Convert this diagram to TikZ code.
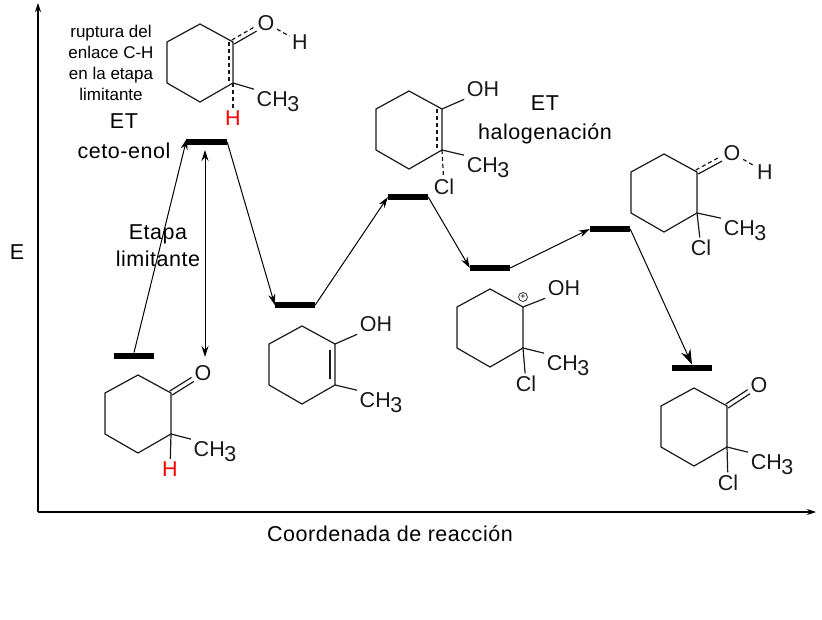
\documentclass[tikz,border=0pt]{standalone}
\usepackage{fontspec}
\setmainfont{Liberation Sans}
\newfontfamily\widefont[LetterSpace=2.5]{Liberation Sans}
\usetikzlibrary{arrows.meta,calc}
\tikzset{
  energybar/.style={fill=black,draw=none,minimum width=40pt,minimum height=6.5pt,inner sep=0pt},
  stepline/.style={line width=1pt,-{Stealth[length=11pt,width=7pt]}},
  axisline/.style={line width=1.2pt,-{Stealth[length=9pt,width=6pt]}},
  bond/.style={line width=1.2pt,draw=black!90},
  dashbond/.style={bond,dash pattern=on 4pt off 3pt},
  atom/.style={font=\fontsize{21.5}{22}\selectfont,inner sep=2.5pt,text=black!90},
  redatom/.style={atom,text=red},
  lab/.style={font=\fontsize{21.5}{26}\selectfont\widefont,inner sep=0pt,align=center},
  smalllab/.style={font=\fontsize{17}{21}\selectfont,inner sep=0pt,align=center},
  ring/.pic={
    \coordinate (-c1) at (0,0);
    \coordinate (-c2) at (0,41);
    \draw[bond,line join=round] (-c1) -- (-c2) -- (-33,60) -- (-66,41) -- (-66,0) -- (-33,-18) -- cycle;
  }
}
\newcommand{\methyl}{CH\kern-0.5pt\raisebox{-5pt}{3}}
% carbonyl: two parallel strokes from the ring carbon towards the oxygen; #3 is the style of the upper stroke
\newcommand{\carbonyl}[3]{%
  \draw[bond] ($(#1)+(1.2,2)$) -- ($(#1)!0.68!(#2)+(1.2,2)$);
  \draw[#3] ($(#1)+(-1.2,-2)$) -- ($(#1)!0.68!(#2)+(-1.2,-2)$);
}
\begin{document}
\begin{tikzpicture}[x=1pt,y=-1pt]
\useasboundingbox (0,0) rectangle (822,620);
% axes
\coordinate (origin) at (38,512);
\coordinate (ytop) at (38,3);
\coordinate (xend) at (816,512);
\draw[axisline] (origin) -- (ytop);
\draw[axisline] (origin) -- (xend);
\node[lab] (elab) at (17,252) {E};
\node[lab] (xlab) at (390,534) {Coordenada de reacción};
% energy levels
\node[energybar] (la) at (134,356) {};
\node[energybar] (lb) at (207,142) {};
\node[energybar] (lc) at (295,305) {};
\node[energybar] (ld) at (408,197) {};
\node[energybar] (le) at (490,268) {};
\node[energybar] (lf) at (610,229) {};
\node[energybar] (lg) at (692,368) {};
\coordinate (ltop) at (205,150);
\coordinate (lbot) at (205,357);
\draw[stepline] (la.north) -- (lb.north west);
\draw[stepline] (lb.east) -- (lc.west);
\draw[stepline] (lc.east) -- (ld.west);
\draw[stepline] (ld.east) -- (le.west);
\draw[stepline] (le.east) -- (lf.west);
\draw[line width=1pt,-{Stealth[length=15pt,width=10pt]}] (lf.east) -- (lg.north);
\draw[line width=1pt,{Stealth[length=11pt,width=7pt]}-{Stealth[length=11pt,width=7pt]}] (ltop) -- (lbot);
% labels
\node[smalllab] (nrup) at (111,63) {ruptura del\\enlace C-H\\en la etapa\\limitante};
\node[lab] (net1) at (124,136) {ET\\[4pt]ceto-enol};
\node[lab] (netapa) at (158,246) {Etapa\\[1pt]limitante};
\node[lab] (net2) at (545,120) {ET\\[3pt]halogenación};
% TS keto-enol
\pic (m1) at (233,42) {ring};
\node[atom] (m1o) at (266,23) {O};
\node[atom] (m1h) at (300,42) {H};
\node[atom] (m1me) at (278,102) {\methyl};
\node[redatom] (m1hr) at (233,118) {H};
\carbonyl{m1-c1}{m1o}{dashbond}
\draw[dashbond] (m1o) -- (m1h);
\draw[dashbond] ([xshift=-4pt]m1-c1) -- ([xshift=-4pt]m1-c2);
\draw[bond] (m1-c2) -- (m1me.north west);
\draw[dashbond] (m1-c2) -- (m1hr);
% TS halogenation
\pic (m2) at (442,109) {ring};
\node[atom] (m2oh) at (483,89) {OH};
\node[atom] (m2me) at (488,168) {\methyl};
\node[atom] (m2cl) at (444,187) {Cl};
\draw[bond] (m2-c1) -- (m2oh.south west);
\draw[dashbond] ([xshift=-5pt]m2-c1) -- ([xshift=-5pt]m2-c2);
\draw[bond] (m2-c2) -- (m2me.north west);
\draw[dashbond] (m2-c2) -- (m2cl);
% TS 2
\pic (m3) at (697,172) {ring};
\node[atom] (m3o) at (732,153) {O};
\node[atom] (m3h) at (765,172) {H};
\node[atom] (m3me) at (745,231) {\methyl};
\node[atom] (m3cl) at (701,248) {Cl};
\carbonyl{m3-c1}{m3o}{dashbond}
\draw[dashbond] (m3o) -- (m3h);
\draw[bond] (m3-c2) -- (m3me.north west);
\draw[bond] (m3-c2) -- (m3cl);
% ketone
\pic (m4) at (171,393) {ring};
\node[atom] (m4o) at (203,373) {O};
\node[atom] (m4me) at (215,452) {\methyl};
\node[redatom] (m4h) at (170,469) {H};
\carbonyl{m4-c1}{m4o}{bond}
\draw[bond] (m4-c2) -- (m4me.north west);
\draw[bond] (m4-c2) -- (m4h);
% enol
\pic (m5) at (335,344) {ring};
\node[atom] (m5oh) at (376,324) {OH};
\node[atom] (m5me) at (381,403) {\methyl};
\draw[bond] (m5-c1) -- (m5oh.south west);
\draw[bond] ([shift={(-5,6)}]m5-c1) -- ([shift={(-5,-6)}]m5-c2);
\draw[bond] (m5-c2) -- (m5me.north west);
% cation
\pic (m6) at (523,307) {ring};
\node[atom] (m6oh) at (564,288) {OH};
\node[atom] (m6me) at (568,366) {\methyl};
\node[atom] (m6cl) at (526,384) {Cl};
\node[draw=black!80,circle,line width=0.8pt,minimum size=9pt,inner sep=0pt,font=\fontsize{9}{9}\selectfont] (m6p) at (523,297) {+};
\draw[bond] (m6-c1) -- (m6oh.south west);
\draw[bond] (m6-c2) -- (m6me.north west);
\draw[bond] (m6-c2) -- (m6cl);
% chloroketone
\pic (m7) at (727,406) {ring};
\node[atom] (m7o) at (759,385) {O};
\node[atom] (m7me) at (772,465) {\methyl};
\node[atom] (m7cl) at (728,483) {Cl};
\carbonyl{m7-c1}{m7o}{bond}
\draw[bond] (m7-c2) -- (m7me.north west);
\draw[bond] (m7-c2) -- (m7cl);
\end{tikzpicture}
\end{document}
